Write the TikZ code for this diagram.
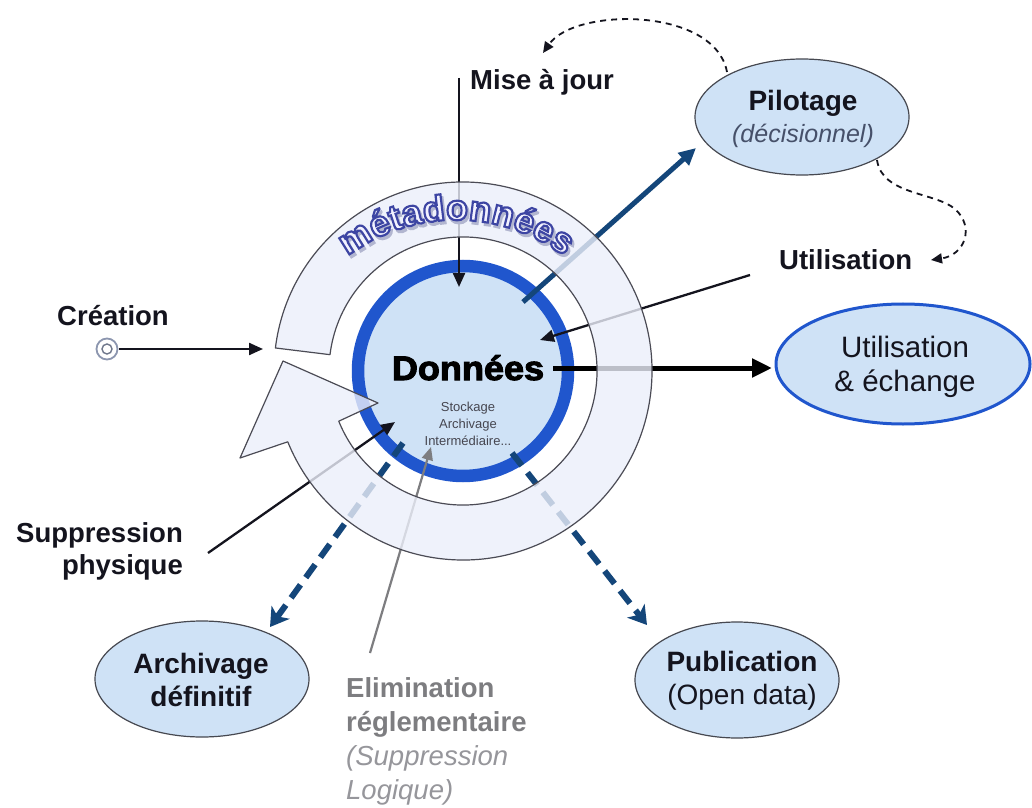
\documentclass[tikz,border=0pt]{standalone}
\usepackage{fontspec}
\setmainfont{Liberation Sans}
\newfontfamily\heavyfont[FakeStretch=1.06,BoldFeatures={FakeBold=3}]{Liberation Sans}
\newfontfamily\mdfontface[BoldFeatures={FakeBold=6}]{Liberation Sans}
\usetikzlibrary{arrows.meta,shapes.geometric,decorations.text}

\definecolor{paleblue}{RGB}{207,226,246}
\definecolor{ringblue}{RGB}{32,86,205}
\definecolor{metafillc}{RGB}{236,239,250}
\definecolor{metaedge}{RGB}{75,75,85}
\definecolor{navy}{RGB}{20,70,122}
\definecolor{ink}{RGB}{20,20,30}
\definecolor{elimgray}{RGB}{125,125,128}
\definecolor{elimlight}{RGB}{150,150,155}
\definecolor{metafill}{RGB}{242,242,255}
\definecolor{metashadow}{RGB}{178,182,208}
\definecolor{smallink}{RGB}{70,70,80}
\definecolor{decisgray}{RGB}{70,80,105}
\definecolor{ellgray}{RGB}{70,72,80}
\definecolor{symbolring}{RGB}{140,150,175}

% outlined letter for the curved "métadonnées" banner:
% light fill, blue stroke drawn by the emboldening of the face
\newcommand\mdletterfont{\mdfontface\bfseries\fontsize{36}{36}\selectfont}
\newcommand\mdglyph[1]{\color{metafill}\special{pdf:literal direct 0.24 0.27 0.64 RG}#1}
\newcommand\mdshade[1]{\color{metashadow}#1}

\begin{document}
\begin{tikzpicture}[x=1pt,y=1pt,
  lbl/.style={font=\bfseries\fontsize{27.5}{32}\selectfont, text=ink, inner sep=0pt},
  elltext/.style={font=\fontsize{28}{33}\selectfont, text=ink, inner sep=0pt, align=center},
  bubble/.style={ellipse, draw=ellgray, line width=1.2pt, fill=paleblue, inner sep=0pt},
  thinarrow/.style={draw=ink, line width=2.3pt, -{Triangle[length=14pt,width=12pt]}},
  grayarrow/.style={draw=elimgray, line width=2.2pt, -{Triangle[length=13pt,width=11pt]}},
  bigarrow/.style={draw=black, line width=5pt, -{Triangle[length=20pt,width=18pt]}},
  navyarrow/.style={draw=navy, line width=5pt, -{Triangle[length=17pt,width=16pt]}},
  navydash/.style={draw=navy, line width=6pt, dash pattern=on 16pt off 9pt, -{Stealth[length=18pt,width=22pt,inset=5pt]}},
  loopdash/.style={draw=ink, line width=1.8pt, dash pattern=on 6pt off 5pt, -{Triangle[length=11pt,width=10pt]}}
]
\useasboundingbox (0,0) rectangle (1032,807);
\fill[white] (0,0) rectangle (1032,807);

% ---- data core ----
\coordinate (C) at (463,436);
\fill[paleblue] (C) circle[radius=106pt];
\draw[ringblue, line width=12.5pt] (C) circle[radius=105pt];

% ---- connector end points ----
\coordinate (miseA) at (459,729);
\coordinate (miseB) at (459,520);
\coordinate (pilA) at (523,505);
\coordinate (pilB) at (696,659);
\coordinate (utilA) at (750,532);
\coordinate (utilB) at (540,467);
\coordinate (ueA) at (553,439);
\coordinate (ueB) at (772,439);
\coordinate (crA) at (119,458);
\coordinate (crB) at (263,458);
\coordinate (supA) at (208,254);
\coordinate (supB) at (395,385);
\coordinate (elA) at (370,154);
\coordinate (elB) at (431,360);
\coordinate (arA) at (403,364);
\coordinate (arB) at (270,180);
\coordinate (pubA) at (512,354);
\coordinate (pubB) at (647,182);
\coordinate (loopA) at (727,735);
\coordinate (loopB) at (543,754);
\coordinate (loopC) at (877,647);
\coordinate (loopD) at (931,547);

% ---- connectors (under the metadata ring) ----
\draw[thinarrow] (miseA) -- (miseB);
\draw[navyarrow] (pilA) -- (pilB);
\draw[thinarrow] (utilA) -- (utilB);
\draw[bigarrow] (ueA) -- (ueB);
\draw[thinarrow] (supA) -- (supB);
\draw[grayarrow] (elA) -- (elB);
\draw[navydash] (arA) -- (arB);
\draw[navydash] (pubA) -- (pubB);
\draw[thinarrow] (crA) -- (crB);

% ---- metadata ring with its arrow head ----
\path[fill=metafillc, fill opacity=0.8, draw=metaedge, line width=1.2pt, line join=round]
  ([shift={(C)}]173:189pt) arc[start angle=173, end angle=-158, radius=189pt]
  -- (240,349) -- (283,446) -- (378,404)
  -- ([shift={(C)}]-158:134pt) arc[start angle=-158, end angle=173, radius=134pt]
  -- cycle;

% banner text: soft shadow first, outlined letters on top
\path[decorate, decoration={text effects along path, text={métadonnées},
    text effects/.cd, text along path, fit text to path,
    character command=\mdshade, every character/.style={font=\mdletterfont}}]
  ([shift={(458,404)}]127:180pt) arc[start angle=127, end angle=53, radius=180pt];
\path[decorate, decoration={text effects along path, text={métadonnées},
    text effects/.cd, text along path, fit text to path,
    character command=\mdglyph, every character/.style={font=\mdletterfont}}]
  ([shift={(456,407)}]127:180pt) arc[start angle=127, end angle=53, radius=180pt];

% ---- central texts ----
\node[font=\heavyfont\bfseries\fontsize{34}{34}\selectfont, text=black, inner sep=0pt, anchor=base] (donnees) at (468,427) {Données};
\node[font=\fontsize{13}{17}\selectfont, text=smallink, align=center, inner sep=0pt] (stock) at (468,383) {Stockage\\Archivage\\Intermédiaire...};

% ---- labels ----
\node[lbl, anchor=base west] (mise) at (470,717) {Mise à jour};
\node[lbl, anchor=base west] (util) at (779,537) {Utilisation};
\node[lbl, anchor=base] (creation) at (113,482) {Création};
\node[lbl, align=right, anchor=east] (suppr) at (183,256) {Suppression\\physique};
\node[font=\fontsize{27.5}{34}\selectfont, align=left, anchor=west, inner sep=0pt] (elim) at (346,66)
  {{\bfseries\color{elimgray}Elimination}\\{\bfseries\color{elimgray}réglementaire}\\{\itshape\color{elimlight}(Suppression}\\{\itshape\color{elimlight}Logique)}};

% creation symbol
\node[circle, draw=symbolring, line width=1.8pt, fill=white, minimum size=21pt, inner sep=0pt] (crsym) at (107,458) {};
\node[circle, draw=symbolring!80!black, line width=1.4pt, fill=white, minimum size=10pt, inner sep=0pt] (crdot) at (crsym) {};

% ---- destination bubbles ----
\node[bubble, minimum width=214pt, minimum height=116pt] (pil) at (802,690) {};
\node[elltext] (pilT) at (803,688) {{\bfseries Pilotage}\\[-1pt]{\itshape\color{decisgray}\fontsize{25}{30}\selectfont(décisionnel)}};

\node[bubble, draw=ringblue, line width=3pt, minimum width=254pt, minimum height=120pt] (ue) at (903,443) {};
\node[elltext, font=\fontsize{29.5}{34}\selectfont] (ueT) at (905,440) {Utilisation\\\& échange};

\node[bubble, minimum width=214pt, minimum height=116pt] (arch) at (202,128) {};
\node[elltext, font=\bfseries\fontsize{28}{33}\selectfont] (archT) at (201,127) {Archivage\\définitif};

\node[bubble, minimum width=204pt, minimum height=116pt] (pub) at (737,127) {};
\node[elltext] (pubT) at (742,126) {{\bfseries Publication}\\(Open data)};

% ---- feedback loops around the steering bubble ----
\draw[loopdash] (loopA) .. controls (715,800) and (575,800) .. (loopB);
\draw[loopdash] (loopC) .. controls (882,612) and (935,615) .. (955,598)
                        .. controls (975,580) and (965,552) .. (loopD);
\end{tikzpicture}
\end{document}
